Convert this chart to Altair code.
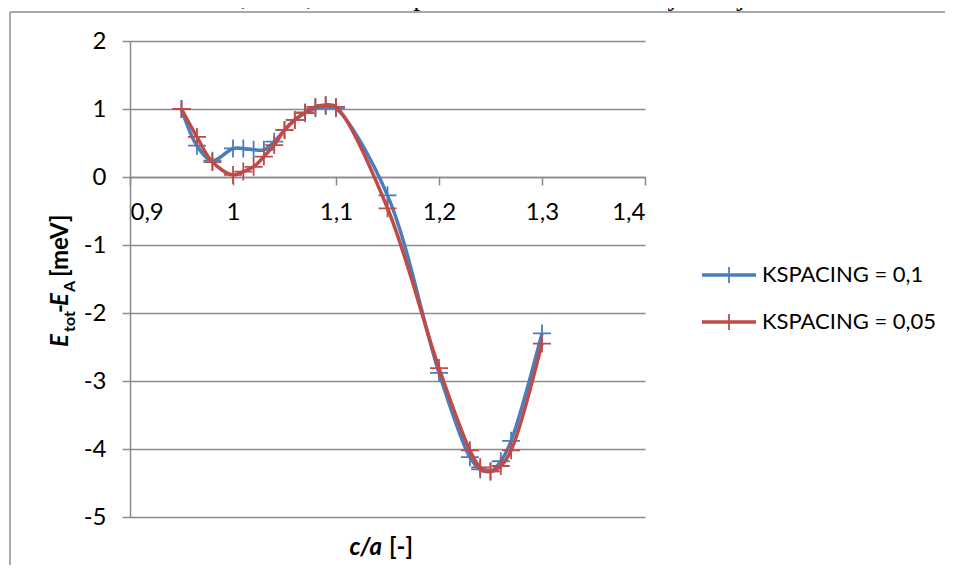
import altair as alt
import pandas as pd

# ---- data ----
ca_values = [0.95, 0.965, 0.98, 1.00, 1.01, 1.02, 1.03, 1.04, 1.05, 1.06, 1.07, 1.08,
             1.09, 1.10, 1.15, 1.20, 1.23, 1.24, 1.25, 1.26, 1.27, 1.30]
e_kspacing_01 = [1.00, 0.46, 0.24, 0.42, 0.42, 0.40, 0.40, 0.52, 0.69, 0.84, 0.94, 1.01,
                 1.045, 1.01, -0.27, -2.88, -4.12, -4.30, -4.33, -4.18, -3.88, -2.30]
e_kspacing_005 = [1.00, 0.59, 0.22, 0.03, 0.08, 0.15, 0.30, 0.47, 0.69, 0.84, 0.95, 1.03,
                  1.06, 1.03, -0.46, -2.81, -4.02, -4.27, -4.33, -4.25, -4.02, -2.45]
series_names = ["KSPACING = 0,1", "KSPACING = 0,05"]
series_colors = ["#4A7EBB", "#BE4B48"]
x_ticks = [0.9, 1.0, 1.1, 1.2, 1.3, 1.4]
y_ticks = [-5, -4, -3, -2, -1, 0, 1, 2]
top_text = "NG rovina 0,1 Å⁻¹, ovšem aplikována na mnohem jemnější rozložení bodů."

W, H = 515, 476
FONT = "Lato"
GRID = "#8a8a8a"

xs = alt.Scale(domain=[0.9, 1.4], nice=False, zero=False)
ys = alt.Scale(domain=[-5, 2], nice=False, zero=False)

df = pd.DataFrame({
    "ca": ca_values * 2,
    "E": e_kspacing_01 + e_kspacing_005,
    "series": [series_names[0]] * len(ca_values) + [series_names[1]] * len(ca_values),
})

x_enc = alt.X("ca:Q", scale=xs, title=None,
              axis=alt.Axis(values=x_ticks, offset=-H * 5 / 7, grid=False,
                            labelExpr="replace(toString(datum.value), '.', ',')"))
y_enc = alt.Y("E:Q", scale=ys, title=None,
              axis=alt.Axis(values=y_ticks, grid=True,
                            labelExpr="replace(datum.label, '−', '-')"))

layers = []
for name, col in zip(series_names, series_colors):
    sub = alt.Chart(df).transform_filter(alt.datum.series == name)
    layers.append(sub.mark_line(interpolate="catmull-rom", strokeWidth=3.5, color=col)
                  .encode(x=x_enc, y=y_enc))
    layers.append(sub.mark_point(shape="M-1,0L1,0M0,-1L0,1", size=324, filled=False,
                                 strokeWidth=1.8, color=col, opacity=1)
                  .encode(x=x_enc, y=y_enc))


def txt(s, x, y, size=24, bold=True, italic=False, angle=0, align="left",
        baseline="alphabetic", font=FONT, color="black"):
    return alt.Chart(pd.DataFrame({"t": [s]})).mark_text(
        align=align, baseline=baseline, angle=angle, fontSize=size,
        fontWeight="bold" if bold else "normal",
        fontStyle="italic" if italic else "normal", font=font, color=color,
    ).encode(x=alt.value(x), y=alt.value(y), text="t:N")


# frame around the chart (part of the page screenshot): top and left edges only are visible
one = pd.DataFrame({"a": [0]})
frame_top = alt.Chart(one).mark_rule(stroke="#8c8c8c", strokeWidth=1.5).encode(
    x=alt.value(-120), x2=alt.value(830), y=alt.value(-29))
frame_left = alt.Chart(one).mark_rule(stroke="#8c8c8c", strokeWidth=1.5).encode(
    x=alt.value(-120), y=alt.value(-29), y2=alt.value(540))

# y-axis title pieces: E_tot - E_A [meV]
ytitle = [
    txt("E", -62, 306, italic=True, angle=270),
    txt("tot", -55, 291, size=16, angle=270),
    txt("-", -62, 272, angle=270),
    txt("E", -62, 265, italic=True, angle=270),
    txt("A", -55, 251, size=16, angle=270),
    txt("[meV]", -62, 236, angle=270),
]
# x-axis title: c/a [-]
xtitle = [
    txt("c/a", 252, 514, italic=True, align="right"),
    txt("[-]", 259, 514),
]

# legend
legend = []
for i, (name, col) in enumerate(zip(series_names, series_colors)):
    yy = 234 + 47 * i
    legend.append(alt.Chart(one).mark_rule(strokeWidth=3.5, color=col)
                  .encode(x=alt.value(572), x2=alt.value(626), y=alt.value(yy)))
    legend.append(alt.Chart(one).mark_rule(strokeWidth=1.8, color=col)
                  .encode(x=alt.value(599), y=alt.value(yy - 8), y2=alt.value(yy + 8)))
    legend.append(txt(name, 632, yy, size=22, bold=False, baseline="middle"))

top = txt(top_text, 815, -36, size=28, bold=False, align="right",
          font="Liberation Serif")

chart = alt.layer(frame_top, frame_left, *layers, *ytitle, *xtitle, *legend, top).properties(
    width=W, height=H,
    autosize=alt.AutoSizeParams(type="none"),
    padding={"left": 122, "top": 33, "right": 300, "bottom": 48},
    background="white",
).configure_view(stroke=None).configure_axis(
    labelFont=FONT, labelFontSize=24, labelColor="black",
    domainColor=GRID, domainWidth=1.5, tickColor=GRID, tickWidth=1.5, tickSize=8,
    gridColor=GRID, gridWidth=1.5, labelPadding=15,
).configure_axisY(labelPadding=16)

chart.save("out.html", embed_options={"renderer": "svg", "actions": False})
